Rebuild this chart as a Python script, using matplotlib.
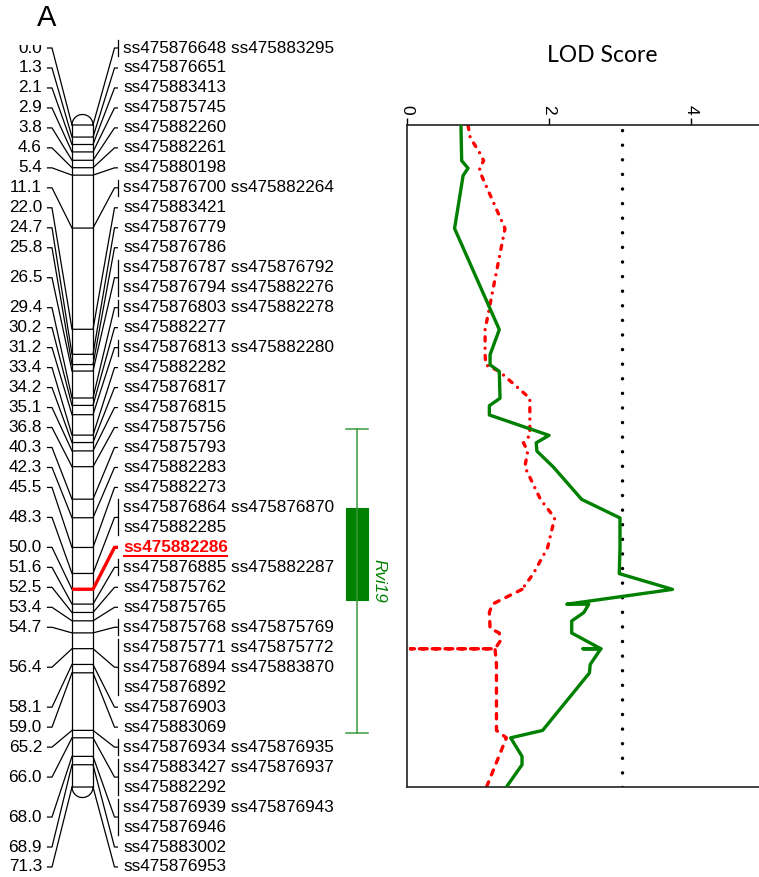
import matplotlib
matplotlib.use('Agg')
import matplotlib.pyplot as plt
from matplotlib.patches import Rectangle
import numpy as np

plt.rcParams['lines.scale_dashes'] = False
plt.rcParams['font.family'] = ['Liberation Sans', 'DejaVu Sans']

# ---------------- data ----------------
positions = [0.0, 1.3, 2.1, 2.9, 3.8, 4.6, 5.4, 11.1, 22.0, 24.7, 25.8, 26.5,
             29.4, 30.2, 31.2, 33.4, 34.2, 35.1, 36.8, 40.3, 42.3, 45.5, 48.3,
             50.0, 51.6, 52.5, 53.4, 54.7, 56.4, 58.1, 59.0, 65.2, 66.0, 68.0,
             68.9, 71.3]
markers = [
    ["ss475876648 ss475883295"], ["ss475876651"], ["ss475883413"],
    ["ss475875745"], ["ss475882260"], ["ss475882261"], ["ss475880198"],
    ["ss475876700 ss475882264"], ["ss475883421"], ["ss475876779"],
    ["ss475876786"], ["ss475876787 ss475876792", "ss475876794 ss475882276"],
    ["ss475876803 ss475882278"], ["ss475882277"], ["ss475876813 ss475882280"],
    ["ss475882282"], ["ss475876817"], ["ss475876815"], ["ss475875756"],
    ["ss475875793"], ["ss475882283"], ["ss475882273"],
    ["ss475876864 ss475876870", "ss475882285"], ["ss475882286"],
    ["ss475876885 ss475882287"], ["ss475875762"], ["ss475875765"],
    ["ss475875768 ss475875769"],
    ["ss475875771 ss475875772", "ss475876894 ss475883870", "ss475876892"],
    ["ss475876903"], ["ss475883069"], ["ss475876934 ss475876935"],
    ["ss475883427 ss475876937", "ss475882292"],
    ["ss475876939 ss475876943", "ss475876946"], ["ss475883002"],
    ["ss475876953"],
]
highlight_marker = "ss475882286"

green_cm = [0.0, 3.8, 4.6, 5.4, 11.1, 22.0, 24.7, 25.8, 26.5, 29.4, 30.2, 31.2,
            33.4, 34.2, 35.1, 36.8, 40.3, 42.3, 45.5, 48.3, 50.0, 51.6, 51.6,
            52.5, 53.4, 54.7, 56.4, 56.4, 56.4, 58.1, 59.0, 65.2, 66.0, 68.0,
            68.9, 71.3]
green_lod = [0.76, 0.77, 0.86, 0.79, 0.67, 1.30, 1.17, 1.17, 1.30, 1.31, 1.16,
             1.16, 2.00, 1.82, 1.83, 2.06, 2.46, 3.00, 3.00, 2.99, 3.74, 2.25,
             2.56, 2.49, 2.32, 2.32, 2.73, 2.48, 2.73, 2.58, 2.57, 1.91, 1.46,
             1.62, 1.62, 1.40]

red_cm = [0.0, 1.3, 2.9, 3.8, 4.6, 5.4, 11.1, 22.0, 24.7, 25.8, 26.5, 29.4,
          33.4, 34.2, 35.1, 36.8, 40.3, 42.3, 45.5, 48.3, 50.0, 51.6, 52.5,
          54.2, 54.7, 55.6, 56.4, 56.4, 56.4, 58.1, 65.2, 66.0, 71.3]
red_lod = [0.86, 0.89, 1.02, 1.08, 1.02, 1.05, 1.38, 1.10, 1.10, 1.11, 1.30,
           1.73, 1.73, 1.64, 1.70, 1.66, 1.88, 2.08, 1.98, 1.78, 1.62, 1.20,
           1.16, 1.17, 1.30, 1.31, 1.24, 0.05, 1.24, 1.26, 1.26, 1.40, 1.12]
red_dashed_from_cm = 50.0

lod_threshold = 3.03
lod_ticks = [0, 2, 4]
qtl_name = "Rvi19"
qtl_outer = (32.7, 65.5)
qtl_inner = (41.2, 51.2)

# ---------------- layout ----------------
W, H, DPI = 759, 877, 100
Y0, S = 125.0, 9.285          # px of 0 cM, px per cM
ROW0, ROWSTEP = 48.0, 19.975  # label rows (px)
CH_L, CH_R = 72.0, 93.0
GREEN = '#008000'
RED = '#ff0000'

def px2cm(py):
    return (py - Y0) / S

fig = plt.figure(figsize=(W / DPI, H / DPI), dpi=DPI)
ax = fig.add_axes([0, 0, 1, 1])
ax.set_xlim(0, W)
ax.set_ylim(px2cm(H), px2cm(0))
ax.axis('off')

lw_thin = 0.9
# chromosome outline
top, bot = positions[0], positions[-1]
ax.plot([CH_L, CH_L], [top, bot], color='k', lw=lw_thin)
ax.plot([CH_R, CH_R], [top, bot], color='k', lw=lw_thin)
t = np.linspace(0, np.pi, 60)
cx, rx, ry = (CH_L + CH_R) / 2, (CH_R - CH_L) / 2, 10.5 / S
ax.plot(cx + rx * np.cos(t), top - ry * np.sin(t), color='k', lw=lw_thin)
ax.plot(cx + rx * np.cos(t), bot + ry * np.sin(t), color='k', lw=lw_thin)

row = 0
hl_text = None
for pos, names in zip(positions, markers):
    rows_px = [ROW0 + (row + k) * ROWSTEP for k in range(len(names))]
    row += len(names)
    ly = px2cm(np.mean(rows_px))
    is_hl = highlight_marker in names
    # left side
    ax.text(42, ly, f"{pos:.1f}", ha='right', va='center', fontsize=12.3, zorder=2)
    ax.plot([47.5, 52, CH_L], [ly, ly, pos], color='k', lw=lw_thin, zorder=2)
    # across chromosome + right connector
    col = RED if is_hl else 'k'
    lw = 2.4 if is_hl else lw_thin
    ax.plot([CH_L, CH_R, 114.5, 118], [pos, pos, ly, ly], color=col, lw=lw,
            zorder=4 if is_hl else 2, solid_capstyle='butt')
    if len(names) > 1 or ' ' in names[0]:
        ax.plot([118, 118], [px2cm(rows_px[0] - 8), px2cm(rows_px[-1] + 8)],
                color='k', lw=lw_thin)
    for nm, rp in zip(names, rows_px):
        if nm == highlight_marker:
            hl_text = ax.text(123, px2cm(rp), nm, ha='left', va='center',
                              fontsize=12.3, color=RED, fontweight='bold')
        else:
            ax.text(123, px2cm(rp), nm, ha='left', va='center', fontsize=12.3)

# mask clipping the top of the first left label
ax.add_patch(Rectangle((0, px2cm(0)), 50, px2cm(44.5) - px2cm(0),
                       facecolor='white', edgecolor='none', zorder=3))

# QTL bar
qx = 357
ax.plot([qx, qx], list(qtl_outer), color='#3a9a3a', lw=1.1)
for yv in qtl_outer:
    ax.plot([346, 368], [yv, yv], color='#3a9a3a', lw=1.1)
ax.add_patch(Rectangle((346, qtl_inner[0]), 22, qtl_inner[1] - qtl_inner[0],
                       facecolor=GREEN, edgecolor=GREEN, lw=0.8))
ax.text(379, (qtl_inner[0] + qtl_inner[1]) / 2 + 0.55, qtl_name, rotation=-90,
        ha='center', va='top', fontsize=12.3, style='italic', color=GREEN)

fig.text(37 / W, 1 - 18 / H, "A", fontsize=21, ha='left', va='center')
fig.text(602 / W, 1 - 56 / H, "LOD Score", fontsize=16.5, ha='center',
         va='center', family=['Lato', 'DejaVu Sans'])

# ---------------- LOD panel ----------------
x0px, ytop, ybot, pxu = 407.0, 125.5, 787.0, 71.0
xmax = 5.5
lax = fig.add_axes([x0px / W, (H - ybot) / H, xmax * pxu / W, (ybot - ytop) / H])
lax.set_xlim(0, xmax)
lax.set_ylim(positions[-1], positions[0])
lax.patch.set_alpha(0)
for sp in ['left', 'top', 'bottom']:
    lax.spines[sp].set_linewidth(1.2)
    lax.spines[sp].set_color('#222222')
lax.spines['right'].set_visible(False)
lax.xaxis.tick_top()
lax.set_xticks(lod_ticks)
lax.set_xticklabels([str(v) for v in lod_ticks])
lax.tick_params(axis='x', direction='out', length=5, width=1, labelsize=12.5,
                labelrotation=-90, pad=3)
lax.set_yticks([])

lax.plot(green_lod, green_cm, color=GREEN, lw=2.4, solid_joinstyle='round',
         zorder=3)
rc = np.array(red_cm)
rl = np.array(red_lod)
k = int(np.argmax(rc >= red_dashed_from_cm))
lax.plot(rl[:k + 1], rc[:k + 1], color=RED, lw=2.4, dash_capstyle='round',
         linestyle=(0, (3.0, 5.2, 0.01, 5.2)), zorder=2)
lax.plot(rl[k:], rc[k:], color=RED, lw=2.4, dash_capstyle='round',
         linestyle=(0, (3.8, 5.4)), zorder=2)
lax.axvline(lod_threshold, color='k', lw=2.5, dash_capstyle='round',
            linestyle=(0, (0.01, 10.5)), zorder=1)

# underline highlighted marker
fig.canvas.draw()
bb = hl_text.get_window_extent()
inv = ax.transData.inverted()
(xa, _), (xb, _) = inv.transform([(bb.x0, bb.y0), (bb.x1, bb.y0)])
yl = hl_text.get_position()[1] + 8.5 / S
ax.plot([xa, xb], [yl, yl], color=RED, lw=1.5, solid_capstyle='butt')

fig.savefig('out.png', dpi=DPI)
